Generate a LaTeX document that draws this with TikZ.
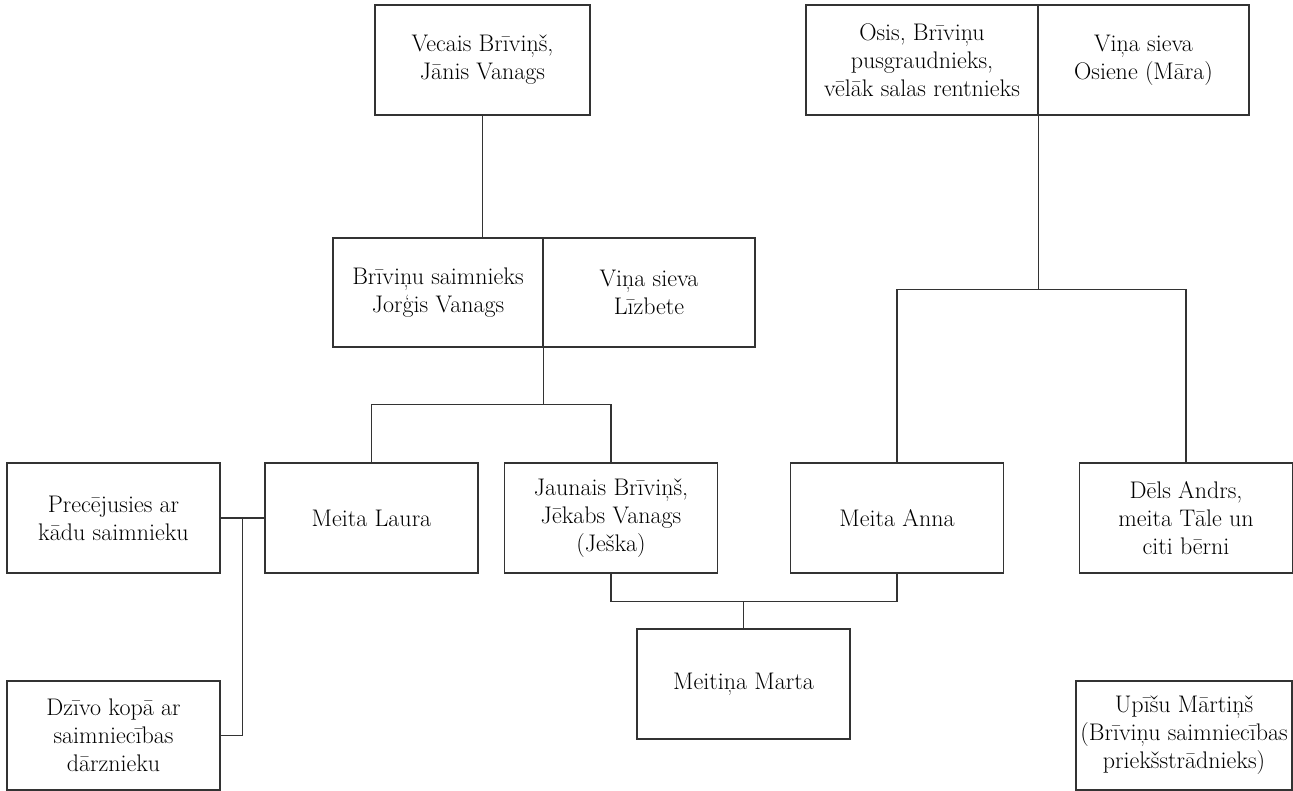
\documentclass[tikz,border=0pt]{standalone}
\usepackage{fontspec}
\usetikzlibrary{calc}

\tikzset{
  person/.style={draw=black!80, line width=1.2pt, text=black, align=center,
    minimum width=213pt, minimum height=110pt, inner sep=1pt,
    font=\fontsize{24}{28}\selectfont},
  link/.style={draw=black!80, line width=1.2pt}
}

\begin{document}
\begin{tikzpicture}[x=1pt, y=1pt]
            \useasboundingbox (0,0) rectangle (1293,-791);

            % Top row
            \node[person, minimum width=215pt] (vecais) at (482.5,-60) {Vecais Brīviņš,\\Jānis Vanags};
            \node[person, minimum width=232pt] (osis) at (922,-60) {Osis, Brīviņu\\pusgraudnieks,\\vēlāk salas rentnieks};
            \node[person, minimum width=211pt] (osiene) at (1143.5,-60) {Viņa sieva\\Osiene (Māra)};

            % Brīviņu couple
            \node[person, minimum width=210pt, minimum height=109pt] (jorgis) at (438,-292.5) {Brīviņu saimnieks\\Jorģis Vanags};
            \node[person, minimum width=212pt, minimum height=109pt] (lizbete) at (649,-292.5) {Viņa sieva\\Līzbete};

            % Children row
            \node[person] (precejusies) at (113.5,-518) {Precējusies ar\\kādu saimnieku};
            \node[person] (laura) at (371.5,-518) {Meita Laura};
            \node[person] (jekabs) at (611,-518) {Jaunais Brīviņš,\\Jēkabs Vanags\\(Ješka)};
            \node[person] (anna) at (897,-518) {Meita Anna};
            \node[person] (andrs) at (1186,-518) {Dēls Andrs,\\meita Tāle un\\citi bērni};

            % Bottom row
            \node[person] (marta) at (743.5,-684) {Meitiņa Marta};
            \node[person, minimum height=109pt] (dzivo) at (113.5,-735.5) {Dzīvo kopā ar\\saimniecības\\dārznieku};
            \node[person, minimum width=216pt, minimum height=109pt] (upisu) at (1184,-735.5) {Upīšu Mārtiņš\\(Brīviņu saimniecības\\priekšstrādnieks)};

            % Forks
            \coordinate (fork1) at ($(jorgis.south east)+(0,-57)$);
            \coordinate (fork2) at ($(osis.south east)+(0,-174)$);
            \coordinate (fork3) at ($(marta.north)+(0,27)$);
            \coordinate (side) at ($(precejusies.east)!0.5!(laura.west)$);

            % Draw links
            \draw[link] (vecais.south) -- (vecais.south |- jorgis.north);
            \draw[link] (jorgis.south east) -- (fork1);
            \draw[link] (laura.north) |- (fork1) -| (jekabs.north);
            \draw[link] (osis.south east) -- (fork2);
            \draw[link] (anna.north) |- (fork2) -| (andrs.north);
            \draw[link] (jekabs.south) |- (fork3) -| (anna.south);
            \draw[link] (fork3) -- (marta.north);
            \draw[link] (precejusies.east) -- (laura.west);
            \draw[link] (side) |- (dzivo.east);
\end{tikzpicture}
\end{document}
